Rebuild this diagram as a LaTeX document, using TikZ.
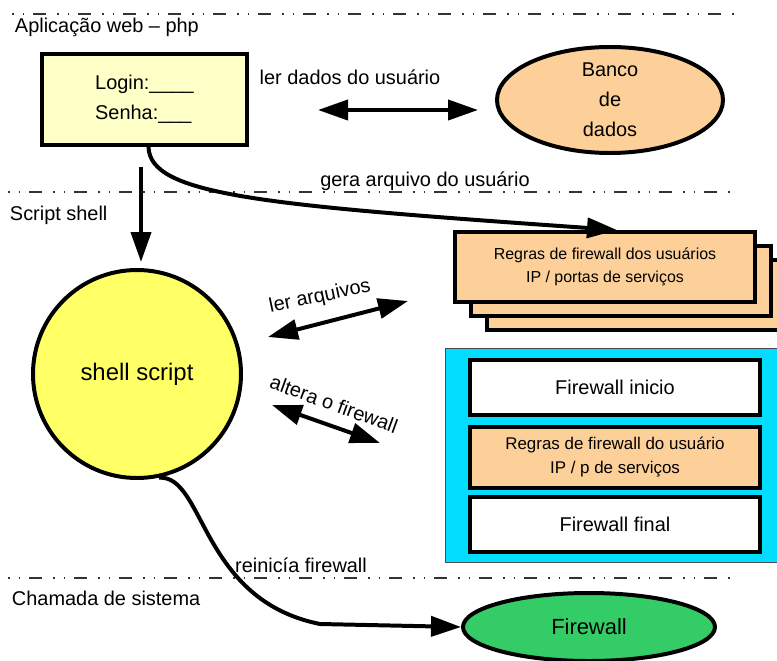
\documentclass[tikz,border=0pt]{standalone}
\usepackage{fontspec}
\setmainfont{Liberation Sans}
\usetikzlibrary{shapes.geometric,arrows.meta,positioning}

\definecolor{papel}{RGB}{255,255,200}
\definecolor{sol}{RGB}{255,255,102}
\definecolor{pessego}{RGB}{253,208,153}
\definecolor{ciano}{RGB}{0,221,255}
\definecolor{verde}{RGB}{51,204,102}

\tikzset{
  caixa/.style={draw,line width=4pt,inner sep=0pt},
  regra/.style={caixa,fill=pessego,minimum width=300bp,minimum height=70bp,align=center,font=\fontsize{16}{23}\selectfont},
  fwbox/.style={caixa,fill=white,minimum width=290bp,minimum height=55bp,align=center},
  rotulo/.style={inner sep=0pt,anchor=base west},
  divisa/.style={line width=1.2pt,black!80,dash pattern=on 1.5bp off 9bp on 1.5bp off 9bp on 13bp off 11bp}
}

\begin{document}
\begin{tikzpicture}[x=1bp,y=-1bp,line width=4pt,node distance=70bp,on grid,
    >={Triangle[length=30bp,width=20bp]},
    every node/.style={font=\fontsize{20}{30}\selectfont}]
  \clip (0,0) rectangle (777,661);

  % camadas
  \draw[divisa] (12,14) -- (738,14);
  \draw[divisa] (8,192) -- (730,192);
  \draw[divisa] (8,578) -- (732,578);
  \node[rotulo] (tApp)  at (13,33)  {Aplicação web – php};
  \node[rotulo] (tSh)   at (8,220)  {Script shell};
  \node[rotulo] (tCham) at (10,605) {Chamada de sistema};

  % aplicacao web
  \node[caixa,fill=papel,minimum width=205bp,minimum height=91bp,align=left] (login) at (144.5,99.5)
    {Login:\_\_\_\_\\Senha:\_\_\_};
  \node[ellipse,caixa,fill=pessego,minimum width=226bp,minimum height=106bp,align=center] (banco) at (610,100)
    {Banco\\de\\dados};

  % script shell
  \node[circle,caixa,fill=sol,minimum size=208bp,font=\fontsize{24}{28}\selectfont] (shell) at (137,374) {shell script};

  \node[regra] (rules3) at (637,295) {};
  \node[regra] (rules2) [above left=14bp and 16bp of rules3] {};
  \node[regra] (rules1) [above left=14bp and 16bp of rules2] {Regras de firewall dos usuários\\IP / portas de serviços};

  \node[draw=black!70,line width=1pt,fill=ciano,minimum width=345bp,minimum height=214bp] (nucleo) at (617.5,455) {};
  \node[fwbox] (inicio) at (615,387.5) {Firewall inicio};
  \node[fwbox,fill=pessego,minimum height=61bp,font=\fontsize{17}{24}\selectfont] (regras) [below=of inicio]
    {Regras de firewall do usuário\\IP / p de serviços};
  \node[fwbox] (final) [below=67bp of regras] {Firewall final};

  % chamada de sistema
  \node[ellipse,caixa,fill=verde,minimum width=252bp,minimum height=68bp,font=\fontsize{22}{26}\selectfont] (fw) at (589,627) {Firewall};

  % setas
  \coordinate (lerA) at (318,110);
  \coordinate (lerB) at (478,110);
  \coordinate (topo) at (141,167);
  \coordinate (arqA) at (268,337);
  \coordinate (arqB) at (408,301);
  \coordinate (altA) at (272,405);
  \coordinate (altB) at (380,443);

  \draw[<->] (lerA) -- (lerB);
  \draw[->] ([xshift=4bp]login.south) .. controls (150,195) and (260,205) .. ([xshift=12bp]rules1.north);
  \draw[->,shorten >=6bp] (topo) -- (topo |- shell.north);
  \draw[<->] (arqA) -- (arqB);
  \draw[<->] (altA) -- (altB);
  \draw[->] (shell.-78) .. controls (205,475) and (200,600) .. (320,624) -- (fw.west);

  \node (tLer)  at (350,77)  {ler dados do usuário};
  \node (tGera) at (425,181) {gera arquivo do usuário};
  \node[rotate=12]  (tArq)  at (320,297) {ler arquivos};
  \node[rotate=-20] (tAlt)  at (334,404) {altera o firewall};
  \node (tRein) at (301,565) {reinicía firewall};
\end{tikzpicture}
\end{document}
